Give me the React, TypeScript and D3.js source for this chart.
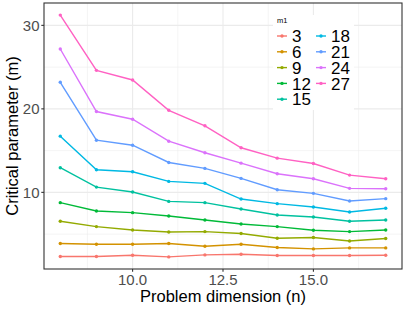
import * as d3 from "d3";

const dims = [8, 9, 10, 11, 12, 13, 14, 15, 16, 17];
const groups = ["3", "6", "9", "12", "15", "18", "21", "24", "27"];
const colors = ["#F8766D", "#D39200", "#93AA00", "#00BA38", "#00C19F", "#00B9E3", "#619CFF", "#DB72FB", "#FF61C3"];

const m3 = [2.32, 2.32, 2.47, 2.27, 2.51, 2.59, 2.43, 2.43, 2.43, 2.47];
const m6 = [3.87, 3.79, 3.79, 3.87, 3.55, 3.79, 3.39, 3.23, 3.35, 3.35];
const m9 = [6.54, 5.9, 5.5, 5.26, 5.3, 5.07, 4.5, 4.59, 4.18, 4.47];
const m12 = [8.77, 7.77, 7.57, 7.17, 6.69, 6.21, 5.9, 5.46, 5.3, 5.5];
const m15 = [12.95, 10.63, 10.04, 8.92, 8.77, 8.0, 7.29, 7.05, 6.54, 6.69];
const m18 = [16.73, 12.71, 12.47, 11.31, 11.08, 9.2, 8.65, 8.25, 7.65, 8.09];
const m21 = [23.18, 16.25, 15.65, 13.58, 12.87, 11.67, 10.32, 9.88, 8.96, 9.25];
const m24 = [27.17, 19.68, 18.76, 16.13, 14.74, 13.5, 12.23, 11.63, 10.48, 10.44];
const m27 = [31.23, 24.61, 23.46, 19.83, 17.97, 15.34, 14.1, 13.46, 12.07, 11.63];
const series = [m3, m6, m9, m12, m15, m18, m21, m24, m27];

const xTicks = [10, 12.5, 15];
const xMinor = [8.75, 11.25, 13.75, 16.25];
const yTicks = [10, 20, 30];
const yMinor = [5, 15, 25];

export default function App() {
  const W = 407, H = 311;
  const left = 44, right = 402, top = 3, bottom = 269;

  const allY = series.flat();
  const yMin = d3.min(allY)!, yMax = d3.max(allY)!;
  const yPad = (yMax - yMin) * 0.05;
  const xPad = (d3.max(dims)! - d3.min(dims)!) * 0.05;

  const x = d3.scaleLinear().domain([d3.min(dims)! - xPad, d3.max(dims)! + xPad]).range([left, right]);
  const y = d3.scaleLinear().domain([yMin - yPad, yMax + yPad]).range([bottom, top]);

  const line = d3.line<number>().x((_, i) => x(dims[i])).y((d) => y(d));

  const font = "Liberation Sans, Arial, sans-serif";
  const grid = "#EBEBEB";

  // legend placement
  const legX = 273, legY = 15, rowH = 15.8;

  return (
    <svg width={W} height={H} style={{ position: "absolute", left: 0, top: 0 }} fontFamily={font}>
      <rect width={W} height={H} fill="#fff" />
      {/* grid */}
      {yMinor.map((v) => (
        <line key={"ym" + v} x1={left} x2={right} y1={y(v)} y2={y(v)} stroke={grid} strokeWidth={0.55} />
      ))}
      {xMinor.map((v) => (
        <line key={"xm" + v} y1={top} y2={bottom} x1={x(v)} x2={x(v)} stroke={grid} strokeWidth={0.55} />
      ))}
      {yTicks.map((v) => (
        <line key={"y" + v} x1={left} x2={right} y1={y(v)} y2={y(v)} stroke={grid} strokeWidth={1.1} />
      ))}
      {xTicks.map((v) => (
        <line key={"x" + v} y1={top} y2={bottom} x1={x(v)} x2={x(v)} stroke={grid} strokeWidth={1.1} />
      ))}

      {/* series */}
      {series.map((s, k) => (
        <g key={groups[k]}>
          <path d={line(s) ?? ""} fill="none" stroke={colors[k]} strokeWidth={1.4} />
          {s.map((v, i) => (
            <circle key={i} cx={x(dims[i])} cy={y(v)} r={1.7} fill={colors[k]} />
          ))}
        </g>
      ))}

      <rect x={left} y={top} width={right - left} height={bottom - top} fill="none" stroke="#333" strokeWidth={1.1} />

      {/* axes */}
      {yTicks.map((v) => (
        <g key={"yt" + v}>
          <line x1={left - 2.7} x2={left} y1={y(v)} y2={y(v)} stroke="#333" strokeWidth={1.1} />
          <text x={left - 4.5} y={y(v)} dy="0.36em" textAnchor="end" fontSize={15} fill="#4D4D4D">
            {v}
          </text>
        </g>
      ))}
      {xTicks.map((v) => (
        <g key={"xt" + v}>
          <line y1={bottom} y2={bottom + 2.7} x1={x(v)} x2={x(v)} stroke="#333" strokeWidth={1.1} />
          <text x={x(v)} y={bottom + 16} textAnchor="middle" fontSize={15} fill="#4D4D4D">
            {d3.format(".1f")(v)}
          </text>
        </g>
      ))}
      <text x={(left + right) / 2} y={302} textAnchor="middle" fontSize={16.5} fill="#000">
        Problem dimension (n)
      </text>
      <text transform={`translate(18,${(top + bottom) / 2}) rotate(-90)`} textAnchor="middle" fontSize={16.5} fill="#000">
        Critical parameter (m)
      </text>

      {/* legend */}
      <rect x={legX} y={legY} width={81} height={95} fill="#fff" />
      <text x={legX + 4} y={legY + 8} fontSize={7.5} fill="#000">m1</text>
      {groups.map((g, k) => {
        const col = k < 5 ? 0 : 1;
        const row = k < 5 ? k : k - 5;
        const kx = legX + 4 + col * 39;
        const ky = 36 + row * rowH;
        return (
          <g key={"leg" + g}>
            <line x1={kx} x2={kx + 10} y1={ky} y2={ky} stroke={colors[k]} strokeWidth={1.4} />
            <circle cx={kx + 5} cy={ky} r={1.7} fill={colors[k]} />
            <text x={kx + 15} y={ky} dy="0.36em" fontSize={17} fill="#000">
              {g}
            </text>
          </g>
        );
      })}
    </svg>
  );
}
